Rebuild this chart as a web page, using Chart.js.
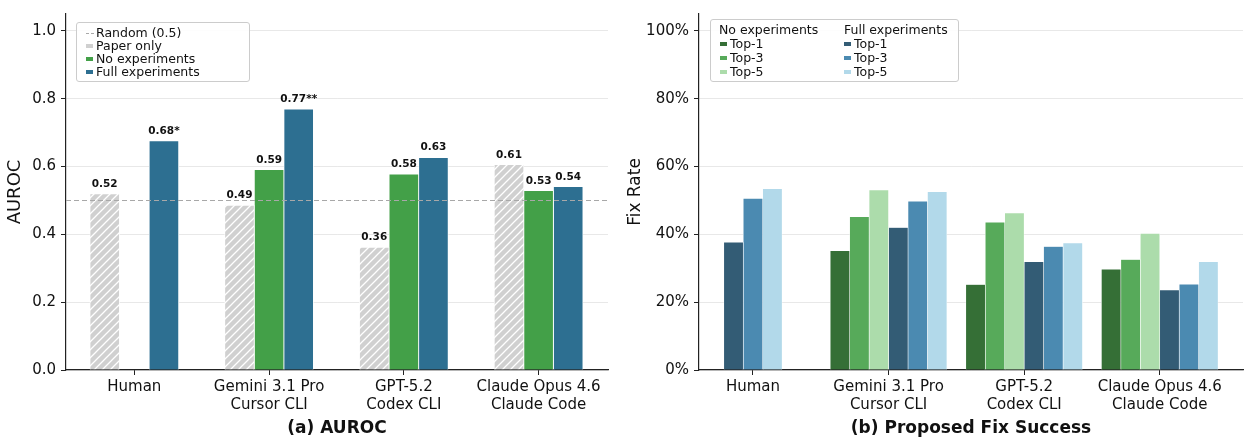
<!DOCTYPE html>
<html lang="en">
<head>
  <meta charset="UTF-8">
  <title>AUROC and Proposed Fix Success</title>
  <script src="https://cdn.jsdelivr.net/npm/chart.js"></script>
  <style>
    body { margin: 0; background: #fff; font-family: 'DejaVu Sans', sans-serif; color: #111; }
    #page { position: relative; width: 1245px; height: 439px; overflow: hidden; }
    .panel { position: absolute; top: 0; }
    .caption { position: absolute; top: 417px; font-weight: bold; font-size: 17px; line-height: 20px;
               transform: translateX(-50%); white-space: nowrap; color: #111; }
    .legend { position: absolute; border: 1px solid #cccccc; border-radius: 3px; background: rgba(255,255,255,0.9);
              font-size: 12.5px; color: #111; box-sizing: border-box; }
    .legend .row { position: absolute; white-space: nowrap; line-height: 14px; height: 14px; }
    .legend .mark { position: absolute; top: 5px; width: 7px; height: 4px; }
    .legend .dash { position: absolute; top: 7px; width: 8px; border-top: 1px dashed #a8a8a8; }
  </style>
</head>
<body>
<div id="page">
  <div class="panel" style="left:0"><canvas id="aurocCanvas" width="620" height="439"></canvas></div>
  <div class="panel" style="left:620px"><canvas id="fixCanvas" width="625" height="439"></canvas></div>
  <div class="caption" style="left:337px">(a) AUROC</div>
  <div class="caption" style="left:971px">(b) Proposed Fix Success</div>
  <div class="legend" id="aurocLegend" style="left:76px; top:22px; width:174px; height:60px"></div>
  <div class="legend" id="fixLegend" style="left:710px; top:19px; width:249px; height:63px"></div>
</div>

<script>
  // categories shared by both panels
  const categories = ['Human', 'Gemini 3.1 Pro\nCursor CLI', 'GPT-5.2\nCodex CLI', 'Claude Opus 4.6\nClaude Code']

  // (a) AUROC
  const paperOnly = [0.520, 0.486, 0.362, 0.606]
  const noExperiments = [null, 0.591, 0.578, 0.529]
  const fullExperiments = [0.676, 0.770, 0.627, 0.541]
  const fullStars = ['*', '**', '', '']
  const RANDOM = 0.5
  const aurocTicks = [0, 0.2, 0.4, 0.6, 0.8, 1.0]

  // (b) Fix rate, percent
  const noTop1 = [null, 35.2, 25.2, 29.7]
  const noTop3 = [null, 45.2, 43.6, 32.6]
  const noTop5 = [null, 53.1, 46.3, 40.3]
  const fullTop1 = [37.7, 42.0, 31.9, 23.6]
  const fullTop3 = [50.6, 49.8, 36.4, 25.3]
  const fullTop5 = [53.5, 52.6, 37.5, 31.9]
  const fixTicks = [0, 20, 40, 60, 80, 100]

  const GRAY = '#d0d0d0'
  const GREEN = '#43a048'
  const BLUE = '#2d6f91'
  const greens = ['#356f36', '#57aa5a', '#acdcab']
  const blues = ['#335c75', '#4b8ab1', '#b2d9ea']
  const FONT = "'DejaVu Sans', sans-serif"

  const toPoints = arr => arr.map((v, i) => ({ x: i, y: v }))

  function makeHatch(bg, fg) {
    const c = document.createElement('canvas')
    c.width = 8; c.height = 8
    const g = c.getContext('2d')
    g.fillStyle = bg
    g.fillRect(0, 0, 8, 8)
    g.strokeStyle = fg
    g.lineWidth = 1.3
    g.beginPath()
    g.moveTo(0, 8); g.lineTo(8, 0)
    g.moveTo(-2, 2); g.lineTo(2, -2)
    g.moveTo(6, 10); g.lineTo(10, 6)
    g.stroke()
    return g.createPattern(c, 'repeat')
  }

  const randomLine = {
    id: 'randomLine',
    afterDatasetsDraw(chart) {
      const { ctx, chartArea, scales } = chart
      const py = scales.y.getPixelForValue(RANDOM)
      ctx.save()
      ctx.strokeStyle = '#a8a8a8'
      ctx.lineWidth = 1.2
      ctx.setLineDash([5, 3])
      ctx.beginPath()
      ctx.moveTo(chartArea.left, py)
      ctx.lineTo(chartArea.right, py)
      ctx.stroke()
      ctx.restore()
    }
  }

  const valueLabels = {
    id: 'valueLabels',
    afterDatasetsDraw(chart) {
      const ctx = chart.ctx
      ctx.save()
      ctx.font = 'bold 10.5px ' + FONT
      ctx.fillStyle = '#111'
      ctx.textAlign = 'center'
      ctx.textBaseline = 'alphabetic'
      chart.data.datasets.forEach((ds, di) => {
        chart.getDatasetMeta(di).data.forEach((el, i) => {
          const v = ds.data[i].y
          if (v == null) return
          const txt = v.toFixed(2) + (ds.stars ? ds.stars[i] : '')
          ctx.fillText(txt, el.x, el.y - 7)
        })
      })
      ctx.restore()
    }
  }

  function xAxis(min, max) {
    return {
      type: 'linear', min: min, max: max, offset: false,
      afterBuildTicks: axis => { axis.ticks = categories.map((c, i) => ({ value: i })) },
      afterFit: axis => { axis.height = 69 },
      grid: { offset: false, drawOnChartArea: false, tickLength: 5, color: '#222', lineWidth: 1 },
      border: { color: '#222', width: 1.2 },
      ticks: {
        autoSkip: false, maxRotation: 0, padding: 3, color: '#111',
        font: { family: FONT, size: 15 },
        callback: v => categories[v] ? categories[v].split('\n') : ''
      }
    }
  }

  function yAxis(max, ticks, width, title, titleSize, fmt) {
    return {
      min: 0, max: max,
      afterBuildTicks: axis => { axis.ticks = ticks.map(v => ({ value: v })) },
      afterFit: axis => { axis.width = width },
      grid: { color: 'rgba(0,0,0,0.09)', tickColor: '#222', tickLength: 5, lineWidth: 1 },
      border: { color: '#222', width: 1.2 },
      ticks: { padding: 5, color: '#111', font: { family: FONT, size: 15 }, callback: fmt },
      title: { display: true, text: title, color: '#111', font: { family: FONT, size: titleSize }, padding: { top: 5, bottom: 0 } }
    }
  }

  new Chart(document.getElementById('aurocCanvas'), {
    type: 'bar',
    data: {
      datasets: [
        { label: 'Paper only', data: toPoints(paperOnly), backgroundColor: makeHatch(GRAY, '#ffffff') },
        { label: 'No experiments', data: toPoints(noExperiments), backgroundColor: GREEN },
        { label: 'Full experiments', data: toPoints(fullExperiments), backgroundColor: BLUE, stars: fullStars }
      ]
    },
    options: {
      responsive: false,
      animation: false,
      layout: { padding: { left: 0, right: 12, top: 1.5, bottom: 0 } },
      datasets: { bar: { barThickness: 29.6, borderWidth: 0.8, borderColor: '#ffffff' } },
      plugins: { legend: { display: false }, tooltip: { enabled: false } },
      scales: {
        x: xAxis(-0.507, 3.515),
        y: yAxis(1.05, aurocTicks, 66, 'AUROC', 18, v => v.toFixed(1))
      }
    },
    plugins: [randomLine, valueLabels]
  })

  const fixSets = [
    { label: 'Top-1', data: toPoints(noTop1), backgroundColor: greens[0] },
    { label: 'Top-3', data: toPoints(noTop3), backgroundColor: greens[1] },
    { label: 'Top-5', data: toPoints(noTop5), backgroundColor: greens[2] },
    { label: 'Top-1', data: toPoints(fullTop1), backgroundColor: blues[0] },
    { label: 'Top-3', data: toPoints(fullTop3), backgroundColor: blues[1] },
    { label: 'Top-5', data: toPoints(fullTop5), backgroundColor: blues[2] }
  ]

  new Chart(document.getElementById('fixCanvas'), {
    type: 'bar',
    data: { datasets: fixSets },
    options: {
      responsive: false,
      animation: false,
      layout: { padding: { left: 0, right: 2, top: 1.5, bottom: 0 } },
      datasets: { bar: { barThickness: 19.45, skipNull: true, borderWidth: 0.6, borderColor: 'rgba(255,255,255,0.8)' } },
      plugins: { legend: { display: false }, tooltip: { enabled: false } },
      scales: {
        x: xAxis(-0.398, 3.614),
        y: yAxis(105, fixTicks, 79, 'Fix Rate', 17, v => v + '%')
      }
    }
  })

  // legends
  function addRow(box, left, top, text, marker) {
    const row = document.createElement('div')
    row.className = 'row'
    row.style.left = left + 'px'
    row.style.top = top + 'px'
    if (marker) {
      const m = document.createElement('span')
      if (marker === 'dash') {
        m.className = 'dash'
      } else {
        m.className = 'mark'
        m.style.background = marker
      }
      m.style.left = '0px'
      row.appendChild(m)
      const t = document.createElement('span')
      t.textContent = text
      t.style.marginLeft = '10px'
      row.appendChild(t)
    } else {
      row.textContent = text
    }
    box.appendChild(row)
  }

  const aLeg = document.getElementById('aurocLegend')
  const aItems = [['Random (0.5)', 'dash'], ['Paper only', GRAY], ['No experiments', GREEN], ['Full experiments', BLUE]]
  aItems.forEach((it, i) => addRow(aLeg, 9, 3 + i * 13, it[0], it[1]))

  const fLeg = document.getElementById('fixLegend')
  addRow(fLeg, 8, 3, 'No experiments')
  addRow(fLeg, 133, 3, 'Full experiments')
  fixSets.forEach((ds, i) => {
    const col = i < 3 ? 0 : 1
    addRow(fLeg, col ? 133 : 9, 17 + (i % 3) * 14, ds.label, ds.backgroundColor)
  })
</script>
</body>
</html>
